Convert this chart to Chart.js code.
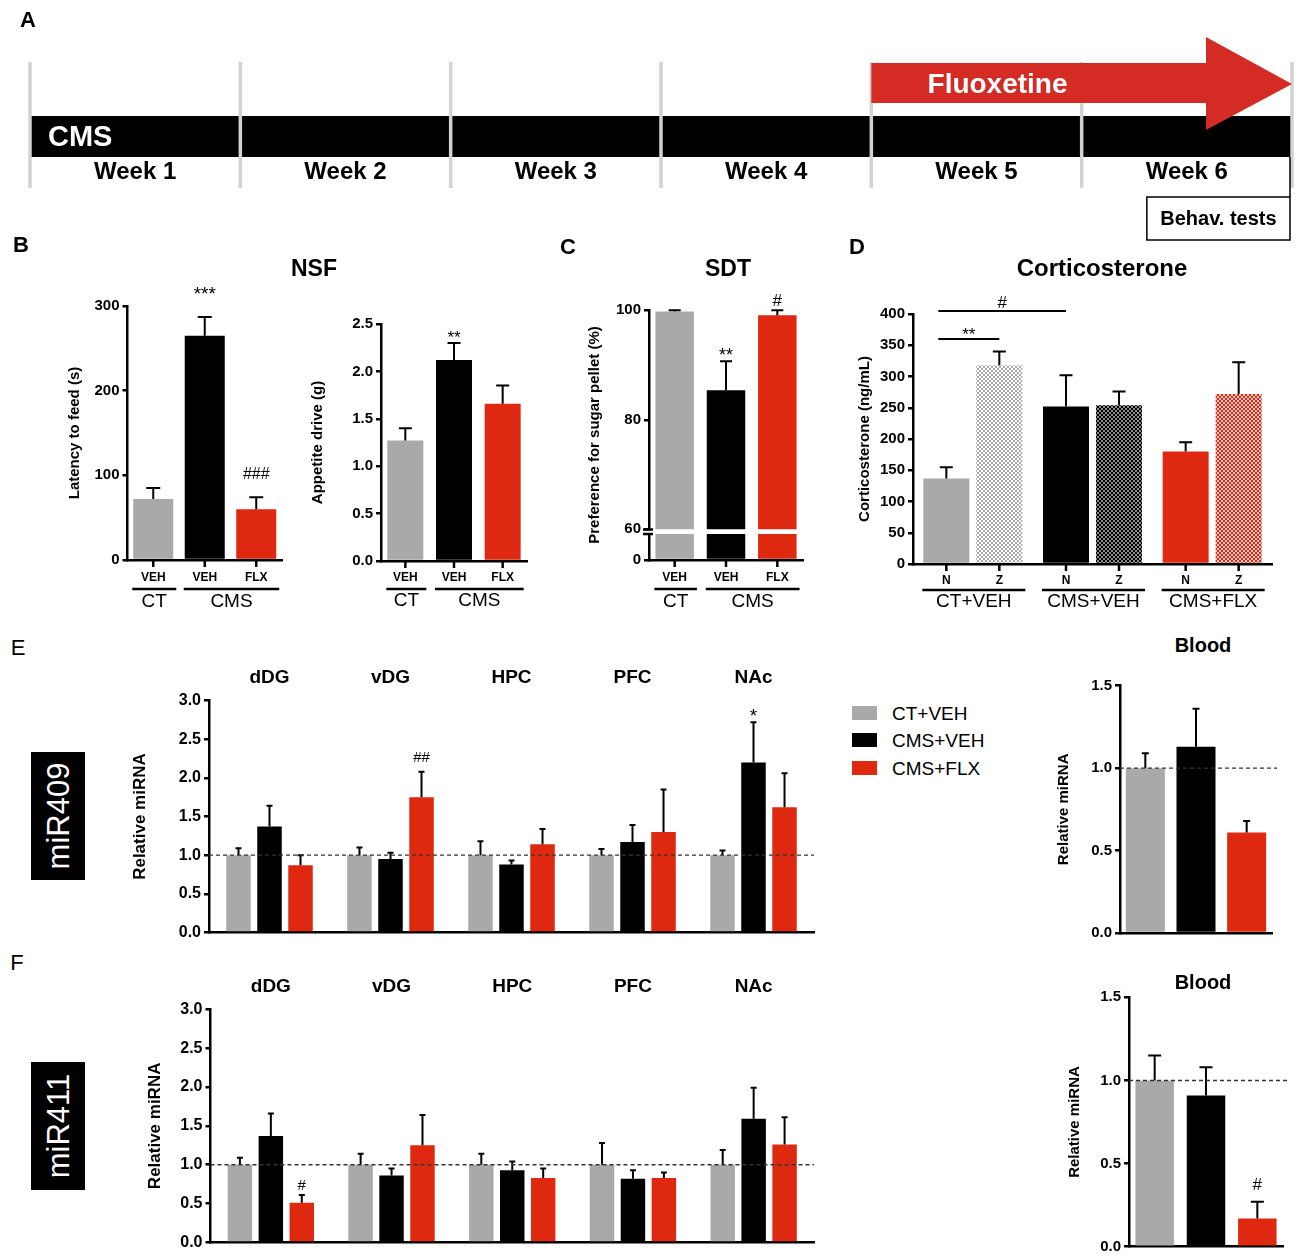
<!DOCTYPE html>
<html>
<head>
<meta charset="utf-8">
<script src="https://cdn.jsdelivr.net/npm/chart.js@4.4.1/dist/chart.umd.min.js"></script>
<style>
body { margin: 0; background: #fff; }
#fig { position: relative; width: 1300px; height: 1260px; background: #fff; overflow: hidden;
       font-family: "Liberation Sans", Arial, Helvetica, sans-serif; color: #000; }
#fig canvas { position: absolute; }
.lbl { position: absolute; white-space: nowrap; line-height: 1; }
</style>
</head>
<body>
<div id="fig"></div>
<script>
// ---- data ----
const weeks = ['Week 1', 'Week 2', 'Week 3', 'Week 4', 'Week 5', 'Week 6'];
const cmsSpan = [0, 6];
const fluoxetineSpan = [4, 6];
const behavSpan = [5.31, 6];

const nsfLabels = ['VEH', 'VEH', 'FLX'];
const latencyMean = [72, 265, 60];
const latencySem = [13, 22, 14];
const appetiteMean = [1.27, 2.12, 1.66];
const appetiteSem = [0.13, 0.18, 0.19];
const sdtMean = [99.8, 85.4, 99.1];
const sdtSem = [0.2, 5.3, 0.9];

const corticoGroups = ['CT+VEH', 'CMS+VEH', 'CMS+FLX'];
const corticoSubsets = ['N', 'Z'];
const corticoN = [137, 252, 180];
const corticoNSem = [18, 50, 15];
const corticoZ = [318, 254, 272];
const corticoZSem = [22, 22, 51];

const seriesNames = ['CT+VEH', 'CMS+VEH', 'CMS+FLX'];
const regions = ['dDG', 'vDG', 'HPC', 'PFC', 'NAc'];
const bloodLabels = ['CT+VEH', 'CMS+VEH', 'CMS+FLX'];

const mir409Ct = [1.0, 1.0, 1.0, 1.0, 1.0];
const mir409CtSem = [0.09, 0.10, 0.18, 0.08, 0.06];
const mir409Cms = [1.37, 0.95, 0.88, 1.17, 2.20];
const mir409CmsSem = [0.27, 0.08, 0.05, 0.22, 0.52];
const mir409Flx = [0.87, 1.75, 1.14, 1.30, 1.62];
const mir409FlxSem = [0.13, 0.33, 0.20, 0.55, 0.44];
const blood409 = [1.0, 1.13, 0.61];
const blood409Sem = [0.09, 0.23, 0.07];

const mir411Ct = [1.0, 1.0, 1.0, 1.0, 1.0];
const mir411CtSem = [0.09, 0.14, 0.14, 0.28, 0.19];
const mir411Cms = [1.37, 0.86, 0.93, 0.82, 1.59];
const mir411CmsSem = [0.29, 0.09, 0.11, 0.11, 0.40];
const mir411Flx = [0.51, 1.25, 0.83, 0.83, 1.26];
const mir411FlxSem = [0.10, 0.39, 0.12, 0.07, 0.35];
const blood411 = [1.0, 0.91, 0.17];
const blood411Sem = [0.15, 0.17, 0.10];

// ---- styles ----
const FONT = '"Liberation Sans", Arial, Helvetica, sans-serif';
const GRAY = '#a9a9a9', BLACK = '#000000', RED = '#de2910';
const groupColors = [GRAY, BLACK, RED];

Chart.defaults.font.family = FONT;
Chart.defaults.color = '#000';

const fig = document.getElementById('fig');

function fnt(size, bold) { return (bold ? 'bold ' : '') + size + 'px ' + FONT; }

function txt(ctx, s, x, y, size, bold, color, align) {
    ctx.font = fnt(size, bold);
    ctx.fillStyle = color || '#000';
    ctx.textAlign = align || 'center';
    ctx.textBaseline = 'middle';
    ctx.fillText(s, x, y);
}

function sigTxt(ctx, s, x, yc, size) {
    ctx.font = fnt(size, false);
    ctx.fillStyle = '#000';
    ctx.textAlign = 'center';
    ctx.textBaseline = 'alphabetic';
    const k = s.indexOf('*') >= 0 ? 0.57 : 0.36;
    ctx.fillText(s, x, yc + k * size);
}

function label(text, cx, cy, size, bold, color) {
    const d = document.createElement('div');
    d.className = 'lbl';
    d.textContent = text;
    d.style.left = cx + 'px';
    d.style.top = cy + 'px';
    d.style.fontSize = size + 'px';
    d.style.fontWeight = bold ? 'bold' : 'normal';
    if (color) d.style.color = color;
    d.style.transform = 'translate(-50%,-50%)';
    fig.appendChild(d);
    return d;
}

function addCanvas(box) {
    const c = document.createElement('canvas');
    c.width = box.w; c.height = box.h;
    c.style.left = box.x + 'px'; c.style.top = box.y + 'px';
    c.style.width = box.w + 'px'; c.style.height = box.h + 'px';
    fig.appendChild(c);
    return c;
}

// 2px checkerboard fill for the "Z" bars
function checker(c1, c2) {
    const p = document.createElement('canvas');
    p.width = 4; p.height = 4;
    const g = p.getContext('2d');
    g.fillStyle = c1; g.fillRect(0, 0, 4, 4);
    g.fillStyle = c2; g.fillRect(0, 0, 2, 2); g.fillRect(2, 2, 2, 2);
    return g.createPattern(p, 'repeat');
}

// error bars, labels, brackets etc.
const decoPlugin = {
    id: 'deco',
    afterDatasetsDraw(chart) {
        const p = chart.canvas.deco, ctx = chart.ctx, a = chart.chartArea, ys = chart.scales.y;
        ctx.save();
        ctx.strokeStyle = '#000';
        ctx.lineWidth = 2;
        chart.data.datasets.forEach((ds, d) => {
            if (!ds.sem) return;
            chart.getDatasetMeta(d).data.forEach((bar, i) => {
                const t = ys.getPixelForValue(ds.data[i] + ds.sem[i]);
                ctx.beginPath();
                ctx.moveTo(bar.x, bar.y);
                ctx.lineTo(bar.x, t);
                ctx.moveTo(bar.x - p.cap / 2, t);
                ctx.lineTo(bar.x + p.cap / 2, t);
                ctx.stroke();
            });
        });
        if (p.ref) {
            const y = ys.getPixelForValue(p.ref.value);
            ctx.setLineDash([4, 3]);
            ctx.lineWidth = 1.4;
            ctx.strokeStyle = '#333';
            ctx.beginPath();
            ctx.moveTo(a.left, y);
            ctx.lineTo(a.right + p.ref.ext, y);
            ctx.stroke();
            ctx.setLineDash([]);
        }
        ctx.restore();
    },
    afterDraw(chart) {
        const p = chart.canvas.deco, ctx = chart.ctx, a = chart.chartArea;
        const ys = chart.scales.y, xs = chart.scales.x;
        const bar = (d, i) => chart.getDatasetMeta(d).data[i];
        ctx.save();
        if (p.yTitle) {
            ctx.save();
            const ty = p.yTitle.y != null ? p.yTitle.y - p.box.y : (a.top + a.bottom) / 2;
            ctx.translate(p.yTitle.x - p.box.x, ty);
            ctx.rotate(-Math.PI / 2);
            txt(ctx, p.yTitle.text, 0, 0, p.yTitle.size, true);
            ctx.restore();
        }
        ctx.strokeStyle = '#000';
        if (p.xTicks) {
            ctx.lineWidth = 2.5;
            chart.data.datasets.forEach((ds, d) => {
                chart.getDatasetMeta(d).data.forEach(b => {
                    ctx.beginPath();
                    ctx.moveTo(b.x, a.bottom);
                    ctx.lineTo(b.x, a.bottom + 7);
                    ctx.stroke();
                });
            });
        }
        if (p.barLabels) {
            p.barLabels.forEach((arr, d) => arr.forEach((s, i) => txt(ctx, s, bar(d, i).x, a.bottom + p.labelDy, 12, true)));
        }
        if (p.groups) {
            p.groups.forEach(g => {
                const b1 = bar(g.from[0], g.from[1]), b2 = bar(g.to[0], g.to[1]);
                const x1 = b1.x - b1.width / 2 - 1, x2 = b2.x + b2.width / 2 + 3;
                ctx.lineWidth = 2.5;
                ctx.beginPath();
                ctx.moveTo(x1, a.bottom + p.lineDy);
                ctx.lineTo(x2, a.bottom + p.lineDy);
                ctx.stroke();
                txt(ctx, g.text, (x1 + x2) / 2, a.bottom + p.groupDy, 19, false);
            });
        }
        if (p.topLabels != null) {
            chart.data.labels.forEach((s, i) => txt(ctx, s, xs.getPixelForValue(i), a.top + p.topLabels, 19, true));
        }
        (p.sigs || []).forEach(s => sigTxt(ctx, s.text, bar(s.d, s.i).x, ys.getPixelForValue(s.at), s.size || 17));
        (p.brackets || []).forEach(b => {
            const x1 = bar(b.from[0], b.from[1]).x - 8, x2 = bar(b.to[0], b.to[1]).x;
            const y = ys.getPixelForValue(b.at);
            ctx.lineWidth = 2;
            ctx.beginPath();
            ctx.moveTo(x1, y);
            ctx.lineTo(x2, y);
            ctx.stroke();
            sigTxt(ctx, b.text, (x1 + x2) / 2, ys.getPixelForValue(b.textAt), 17);
        });
        if (p.brk) {
            // axis break: short bars closing both axis pieces
            ctx.lineWidth = 2.5;
            [a.top - 4.5, a.top].forEach(y => {
                ctx.beginPath();
                ctx.moveTo(a.left - 6, y);
                ctx.lineTo(a.left + 4, y);
                ctx.stroke();
            });
        }
        ctx.restore();
    }
};

function barChart(p) {
    const c = addCanvas(p.box);
    c.deco = p;
    const y = p.y;
    return new Chart(c, {
        type: 'bar',
        data: { labels: p.labels, datasets: p.datasets },
        options: {
            responsive: false,
            animation: false,
            devicePixelRatio: 1,
            categoryPercentage: p.catPct || 1,
            barPercentage: p.barPct,
            layout: {
                padding: {
                    left: 0,
                    top: p.area.t - p.box.y,
                    right: p.box.x + p.box.w - p.area.r,
                    bottom: p.box.y + p.box.h - p.area.b
                }
            },
            plugins: { legend: { display: false }, tooltip: { enabled: false } },
            scales: {
                x: {
                    grid: { display: false },
                    border: { display: p.xBorder !== false, color: '#000', width: 2.5 },
                    ticks: { display: false },
                    afterFit: s => { s.height = 0; }
                },
                y: {
                    min: y.min,
                    max: y.max,
                    grid: { drawOnChartArea: false, drawTicks: true, tickLength: 5, color: '#000', lineWidth: 2.5 },
                    border: { color: '#000', width: 2.5 },
                    ticks: {
                        stepSize: y.step,
                        padding: 3,
                        color: '#000',
                        font: { size: y.font || 15, weight: 'bold' },
                        callback: v => y.dec ? Number(v).toFixed(y.dec) : v
                    },
                    afterBuildTicks: y.only != null ? (s => { s.ticks = s.ticks.filter(t => t.value === y.only); }) : undefined,
                    afterFit: s => { s.width = p.area.l - p.box.x; }
                }
            }
        },
        plugins: [decoPlugin]
    });
}

// ---- A: timeline ----
const timelinePlugin = {
    id: 'timeline',
    afterDatasetsDraw(chart) {
        const ctx = chart.ctx, xs = chart.scales.x, a = chart.chartArea;
        ctx.save();
        ctx.strokeStyle = '#d2d2d2';
        ctx.lineWidth = 3.5;
        for (let w = 0; w <= weeks.length; w++) {
            const x = xs.getPixelForValue(w);
            ctx.beginPath();
            ctx.moveTo(x, 62);
            ctx.lineTo(x, 188);
            ctx.stroke();
        }
        const f0 = xs.getPixelForValue(fluoxetineSpan[0]), f1 = xs.getPixelForValue(fluoxetineSpan[1]);
        const hb = f1 - 86;
        ctx.fillStyle = '#d52b25';
        ctx.beginPath();
        ctx.moveTo(f0, 63); ctx.lineTo(hb, 63); ctx.lineTo(hb, 37); ctx.lineTo(f1, 84);
        ctx.lineTo(hb, 130); ctx.lineTo(hb, 103); ctx.lineTo(f0, 103);
        ctx.closePath();
        ctx.fill();
        txt(ctx, 'Fluoxetine', xs.getPixelForValue(fluoxetineSpan[0] + 0.6), 85, 28, true, '#fff');
        txt(ctx, chart.data.labels[0], 48, 138, 29, true, '#fff', 'left');
        weeks.forEach((w, i) => txt(ctx, w, xs.getPixelForValue(i + 0.5), 172, 24, true));
        const b0 = xs.getPixelForValue(behavSpan[0]), b1 = xs.getPixelForValue(behavSpan[1]) - 2;
        ctx.strokeStyle = '#000';
        ctx.lineWidth = 1.5;
        ctx.strokeRect(b0, 197, b1 - b0, 43);
        ctx.beginPath();
        ctx.moveTo(b1, a.bottom);
        ctx.lineTo(b1, 197);
        ctx.stroke();
        txt(ctx, 'Behav. tests', (b0 + b1) / 2, 219, 20, true);
        ctx.restore();
    }
};

const tl = addCanvas({ x: 0, y: 0, w: 1300, h: 250 });
new Chart(tl, {
    type: 'bar',
    data: { labels: ['CMS'], datasets: [{ data: [cmsSpan], backgroundColor: '#000', barPercentage: 1, categoryPercentage: 1 }] },
    options: {
        indexAxis: 'y',
        responsive: false,
        animation: false,
        devicePixelRatio: 1,
        layout: { padding: { left: 30, right: 8, top: 116, bottom: 93 } },
        plugins: { legend: { display: false }, tooltip: { enabled: false } },
        scales: {
            x: { type: 'linear', min: 0, max: weeks.length, display: false },
            y: { display: false }
        }
    },
    plugins: [timelinePlugin]
});

// ---- B: NSF ----
barChart({
    box: { x: 50, y: 275, w: 240, h: 340 },
    area: { l: 127.5, r: 282, t: 306, b: 560 },
    labels: nsfLabels,
    datasets: [{ data: latencyMean, sem: latencySem, backgroundColor: groupColors }],
    barPct: 0.777,
    y: { min: 0, max: 300, step: 100 },
    yTitle: { text: 'Latency to feed (s)', x: 75, size: 15 },
    cap: 14, xTicks: true,
    barLabels: [nsfLabels], labelDy: 18,
    groups: [{ text: 'CT', from: [0, 0], to: [0, 0] }, { text: 'CMS', from: [0, 1], to: [0, 2] }],
    lineDy: 29, groupDy: 42,
    sigs: [{ d: 0, i: 1, text: '***', at: 320, size: 19 }, { d: 0, i: 2, text: '###', at: 103, size: 16 }]
});

barChart({
    box: { x: 300, y: 275, w: 235, h: 340 },
    area: { l: 381, r: 527, t: 324, b: 561 },
    labels: nsfLabels,
    datasets: [{ data: appetiteMean, sem: appetiteSem, backgroundColor: groupColors }],
    barPct: 0.74,
    y: { min: 0, max: 2.5, step: 0.5, dec: 1 },
    yTitle: { text: 'Appetite drive (g)', x: 318, size: 15 },
    cap: 13, xTicks: true,
    barLabels: [nsfLabels], labelDy: 17,
    groups: [{ text: 'CT', from: [0, 0], to: [0, 0] }, { text: 'CMS', from: [0, 1], to: [0, 2] }],
    lineDy: 28, groupDy: 40,
    sigs: [{ d: 0, i: 1, text: '**', at: 2.40, size: 17 }]
});

// ---- C: SDT (broken axis) ----
barChart({
    box: { x: 580, y: 280, w: 230, h: 290 },
    area: { l: 649, r: 803, t: 310.3, b: 529.3 },
    labels: nsfLabels,
    datasets: [{ data: sdtMean, sem: sdtSem, backgroundColor: groupColors }],
    barPct: 0.75,
    xBorder: false,
    y: { min: 60, max: 100, step: 20 },
    yTitle: { text: 'Preference for sugar pellet (%)', x: 595, y: 435, size: 15 },
    cap: 12,
    sigs: [{ d: 0, i: 1, text: '**', at: 92.7, size: 18 }, { d: 0, i: 2, text: '#', at: 101.9, size: 17 }]
});

barChart({
    box: { x: 580, y: 520, w: 230, h: 95 },
    area: { l: 649, r: 803, t: 534, b: 560 },
    labels: nsfLabels,
    datasets: [{ data: sdtMean, backgroundColor: groupColors, clip: 0 }],
    barPct: 0.75,
    y: { min: 0, max: 60, step: 60, only: 0 },
    cap: 12, xTicks: true, brk: true,
    barLabels: [nsfLabels], labelDy: 18,
    groups: [{ text: 'CT', from: [0, 0], to: [0, 0] }, { text: 'CMS', from: [0, 1], to: [0, 2] }],
    lineDy: 29, groupDy: 42
});

// ---- D: corticosterone ----
barChart({
    box: { x: 845, y: 280, w: 445, h: 335 },
    area: { l: 913, r: 1272, t: 314, b: 564 },
    labels: corticoGroups,
    datasets: [
        { label: corticoSubsets[0], data: corticoN, sem: corticoNSem, backgroundColor: groupColors },
        { label: corticoSubsets[1], data: corticoZ, sem: corticoZSem,
          backgroundColor: [checker('#ffffff', '#a8a8a8'), checker('#000000', '#8a8a8a'), checker('#d8281a', '#f8c8c0')] }
    ],
    catPct: 0.886, barPct: 0.868,
    y: { min: 0, max: 400, step: 50 },
    yTitle: { text: 'Corticosterone (ng/mL)', x: 865, size: 15 },
    cap: 13, xTicks: true,
    barLabels: [corticoGroups.map(() => corticoSubsets[0]), corticoGroups.map(() => corticoSubsets[1])], labelDy: 17,
    groups: corticoGroups.map((g, i) => ({ text: g, from: [0, i], to: [1, i] })),
    lineDy: 26, groupDy: 38,
    brackets: [
        { from: [0, 0], to: [0, 1], at: 405, text: '#', textAt: 419 },
        { from: [0, 0], to: [1, 0], at: 360, text: '**', textAt: 374 }
    ]
});

// ---- E / F: miRNA ----
function regionSets(ct, ctSem, cms, cmsSem, flx, flxSem) {
    return [
        { label: seriesNames[0], data: ct, sem: ctSem, backgroundColor: GRAY },
        { label: seriesNames[1], data: cms, sem: cmsSem, backgroundColor: BLACK },
        { label: seriesNames[2], data: flx, sem: flxSem, backgroundColor: RED }
    ];
}

barChart({
    box: { x: 120, y: 655, w: 720, h: 290 },
    area: { l: 209, r: 814, t: 700.7, b: 936.7 },
    labels: regions,
    datasets: regionSets(mir409Ct, mir409CtSem, mir409Cms, mir409CmsSem, mir409Flx, mir409FlxSem),
    catPct: 0.769, barPct: 0.79,
    y: { min: 0, max: 3, step: 0.5, dec: 1, font: 16 },
    yTitle: { text: 'Relative miRNA', x: 140, size: 17 },
    cap: 6, ref: { value: 1, ext: 0 }, topLabels: -23,
    sigs: [{ d: 2, i: 1, text: '##', at: 2.27, size: 15 }, { d: 1, i: 4, text: '*', at: 2.87, size: 19 }]
});

barChart({
    box: { x: 1040, y: 660, w: 250, h: 285 },
    area: { l: 1120, r: 1272, t: 685.7, b: 935.3 },
    labels: bloodLabels,
    datasets: [{ data: blood409, sem: blood409Sem, backgroundColor: groupColors }],
    barPct: 0.77,
    y: { min: 0, max: 1.5, step: 0.5, dec: 1 },
    yTitle: { text: 'Relative miRNA', x: 1064, size: 15 },
    cap: 7, ref: { value: 1, ext: 5 }
});

barChart({
    box: { x: 120, y: 960, w: 720, h: 295 },
    area: { l: 210.5, r: 814, t: 1009.3, b: 1245.7 },
    labels: regions,
    datasets: regionSets(mir411Ct, mir411CtSem, mir411Cms, mir411CmsSem, mir411Flx, mir411FlxSem),
    catPct: 0.769, barPct: 0.79,
    y: { min: 0, max: 3, step: 0.5, dec: 1, font: 16 },
    yTitle: { text: 'Relative miRNA', x: 155, size: 17 },
    cap: 6, ref: { value: 1, ext: 0 }, topLabels: -23,
    sigs: [{ d: 2, i: 0, text: '#', at: 0.745, size: 15 }]
});

barChart({
    box: { x: 1040, y: 985, w: 255, h: 275 },
    area: { l: 1129, r: 1283, t: 997.3, b: 1246.7 },
    labels: bloodLabels,
    datasets: [{ data: blood411, sem: blood411Sem, backgroundColor: groupColors }],
    barPct: 0.75,
    y: { min: 0, max: 1.5, step: 0.5, dec: 1 },
    yTitle: { text: 'Relative miRNA', x: 1075, size: 15 },
    cap: 13, ref: { value: 1, ext: 5 },
    sigs: [{ d: 0, i: 2, text: '#', at: 0.38, size: 17 }]
});

// ---- text overlays ----
label('A', 28, 20, 22, true);
label('B', 21, 245, 22, true);
label('C', 568, 247, 22, true);
label('D', 857, 247, 22, true);
label('E', 18, 648, 22, false);
label('F', 17, 963, 22, false);

label('NSF', 314, 268, 23, true);
label('SDT', 728, 268, 23, true);
label('Corticosterone', 1102, 268, 24, true);
label('Blood', 1203, 645, 20, true);
label('Blood', 1203, 982, 20, true);

function mirBox(text, y0) {
    const d = document.createElement('div');
    d.style.cssText = 'position:absolute;left:31px;top:' + y0 + 'px;width:54px;height:128px;background:#000;';
    fig.appendChild(d);
    const t = label(text, 58, y0 + 64, 31, false, '#fff');
    t.style.transform = 'translate(-50%,-50%) rotate(-90deg)';
}
mirBox('miR409', 752);
mirBox('miR411', 1062);

// legend
seriesNames.forEach((name, i) => {
    const cy = 712.5 + i * 27.5;
    const sq = document.createElement('div');
    sq.style.cssText = 'position:absolute;left:852px;top:' + (cy - 7) + 'px;width:25px;height:14px;background:' + groupColors[i] + ';';
    fig.appendChild(sq);
    const t = label(name, 892, cy, 19, false);
    t.style.transform = 'translate(0,-50%)';
});
</script>
</body>
</html>
